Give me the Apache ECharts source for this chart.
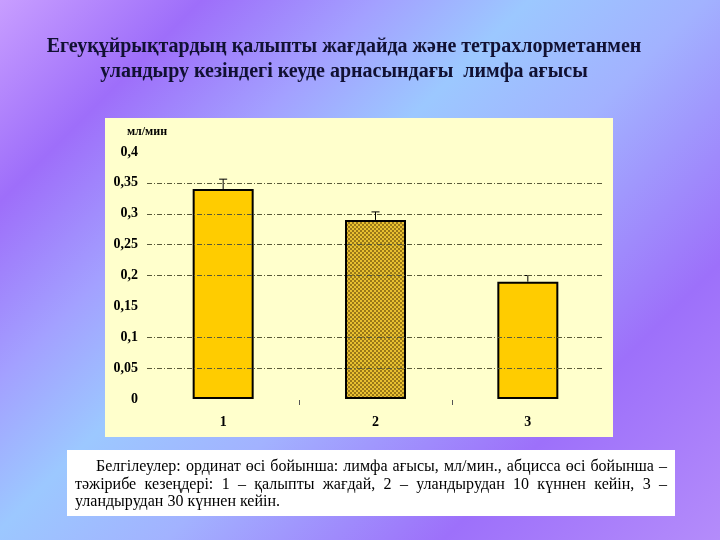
<!DOCTYPE html>
<html><head><meta charset="utf-8">
<script src="https://cdn.jsdelivr.net/npm/echarts@6/dist/echarts.min.js"></script>
<style>
html,body{margin:0;padding:0;}
#c{width:720px;height:540px;background:linear-gradient(135deg,#c89eff 0%,#9e6efa 16%,#a3a0ff 30%,#9cc8ff 42%,#a2b2ff 56%,#9d70fa 78%,#b48cfa 100%);}
</style></head><body><div id="c"></div>
<script>
const categories = ['1', '2', '3'];
const values = [0.34, 0.29, 0.19];
const errors = [0.016, 0.013, 0.010];
const gridValues = [0.05, 0.1, 0.2, 0.25, 0.3, 0.35];
const axisName = 'мл/мин';
const titleLines = [
  'Егеуқұйрықтардың қалыпты жағдайда және тетрахлорметанмен',
  'уландыру кезіндегі кеуде арнасындағы  лимфа ағысы'
];
const captionLines = [
  'Белгілеулер: ординат өсі бойынша: лимфа ағысы, мл/мин., абцисса өсі бойынша –',
  'тәжірибе кезеңдері: 1 – қалыпты жағдай, 2 – уландырудан 10 күннен кейін, 3 –',
  'уландырудан 30 күннен кейін.'
];

const serif = '"Liberation Serif", "Times New Roman", serif';
const capFont = '16px ' + serif;
const cv = document.createElement('canvas').getContext('2d');
cv.font = '16px "Liberation Serif"';

function captionLine(text, x0, x1, y, justify) {
  if (!justify) {
    return [{type: 'text', x: x0, y: y, style: {text: text, font: capFont, fill: '#000', textVerticalAlign: 'top'}}];
  }
  const els = [];
  const words = text.split(' ');
  const widths = words.map(w => cv.measureText(w).width);
  const total = widths.reduce((a, b) => a + b, 0);
  const gap = (x1 - x0 - total) / (words.length - 1);
  let x = x0;
  words.forEach((w, i) => {
    els.push({type: 'text', x: x, y: y, style: {text: w, font: capFont, fill: '#000', textVerticalAlign: 'top'}});
    x += widths[i] + gap;
  });
  return els;
}

const graphics = [
  {type: 'rect', shape: {x: 105, y: 118, width: 508, height: 319}, style: {fill: '#FFFFCC'}, z: -10, silent: true},
  {type: 'rect', shape: {x: 67, y: 450, width: 608, height: 66}, style: {fill: '#FFFFFF'}, z: -10, silent: true},
  {type: 'text', x: 344, y: 47, style: {text: titleLines[0], font: 'bold 20px ' + serif, fill: '#111133', textAlign: 'center', textVerticalAlign: 'middle'}},
  {type: 'text', x: 344, y: 72, style: {text: titleLines[1], font: 'bold 20px ' + serif, fill: '#111133', textAlign: 'center', textVerticalAlign: 'middle'}}
];
graphics.push(...captionLine(captionLines[0], 96, 667, 459, true));
graphics.push(...captionLine(captionLines[1], 75, 667, 477, true));
graphics.push(...captionLine(captionLines[2], 75, 667, 494, false));

const chart = echarts.init(document.getElementById('c'), null, {renderer: 'canvas'});
chart.setOption({
  backgroundColor: 'transparent',
  animation: false,
  grid: {left: 147, right: 116, top: 152, bottom: 141},
  graphic: graphics,
  xAxis: {
    type: 'category',
    data: categories,
    axisLine: {show: false},
    axisTick: {show: false},
    axisLabel: {margin: 16, fontWeight: 'bold', fontSize: 14, fontFamily: serif, color: '#000'}
  },
  yAxis: {
    type: 'value',
    min: 0, max: 0.4, interval: 0.05,
    name: axisName,
    nameLocation: 'end',
    nameGap: 14,
    nameTextStyle: {fontFamily: serif, fontWeight: 'bold', fontSize: 12, color: '#000', align: 'center'},
    axisLine: {show: false},
    axisTick: {show: false},
    splitLine: {show: false},
    axisLabel: {
      margin: 9,
      fontFamily: serif, fontWeight: 'bold', fontSize: 14, color: '#000',
      formatter: v => String(+v.toFixed(2)).replace('.', ',')
    }
  },
  series: [
    {
      type: 'line', data: [], silent: true, z: 1,
      markLine: {
        silent: true, symbol: 'none', label: {show: false},
        lineStyle: {color: '#5a5a3a', type: [5, 2, 1, 2], width: 1},
        data: gridValues.map(v => ({yAxis: v}))
      }
    },
    {
      type: 'bar', z: 3,
      barWidth: 61,
      data: values.map((v, i) => ({
        value: v,
        itemStyle: i === 1
          ? {color: '#E8C030', borderColor: '#000', borderWidth: 2,
             decal: {symbol: 'rect', symbolSize: 1, color: '#9A7818', dashArrayX: [[2, 2], [0, 2, 2, 0]], dashArrayY: [2, 0]}}
          : {color: '#FFCC00', borderColor: '#000', borderWidth: 2}
      }))
    },
    {
      type: 'custom', z: 4,
      data: values.map((v, i) => [i, v, errors[i]]),
      renderItem: function (params, api) {
        const idx = api.value(0);
        const base = api.coord([idx, api.value(1)]);
        const top = api.coord([idx, api.value(1) + api.value(2)]);
        const zero = api.coord([idx, 0]);
        const band = api.size([1, 0])[0];
        const st = {stroke: '#000', lineWidth: 1};
        const children = [
          {type: 'line', shape: {x1: base[0], y1: base[1], x2: top[0], y2: top[1]}, style: st},
          {type: 'line', shape: {x1: top[0] - 4, y1: top[1], x2: top[0] + 4, y2: top[1]}, style: st}
        ];
        if (idx < categories.length - 1) {
          const tx = Math.round(zero[0] + band / 2) + 0.5;
          children.push({type: 'line', shape: {x1: tx, y1: zero[1] + 1, x2: tx, y2: zero[1] + 6}, style: {stroke: '#555', lineWidth: 1}});
        }
        return {type: 'group', children: children};
      }
    }
  ]
});
</script></body></html>
